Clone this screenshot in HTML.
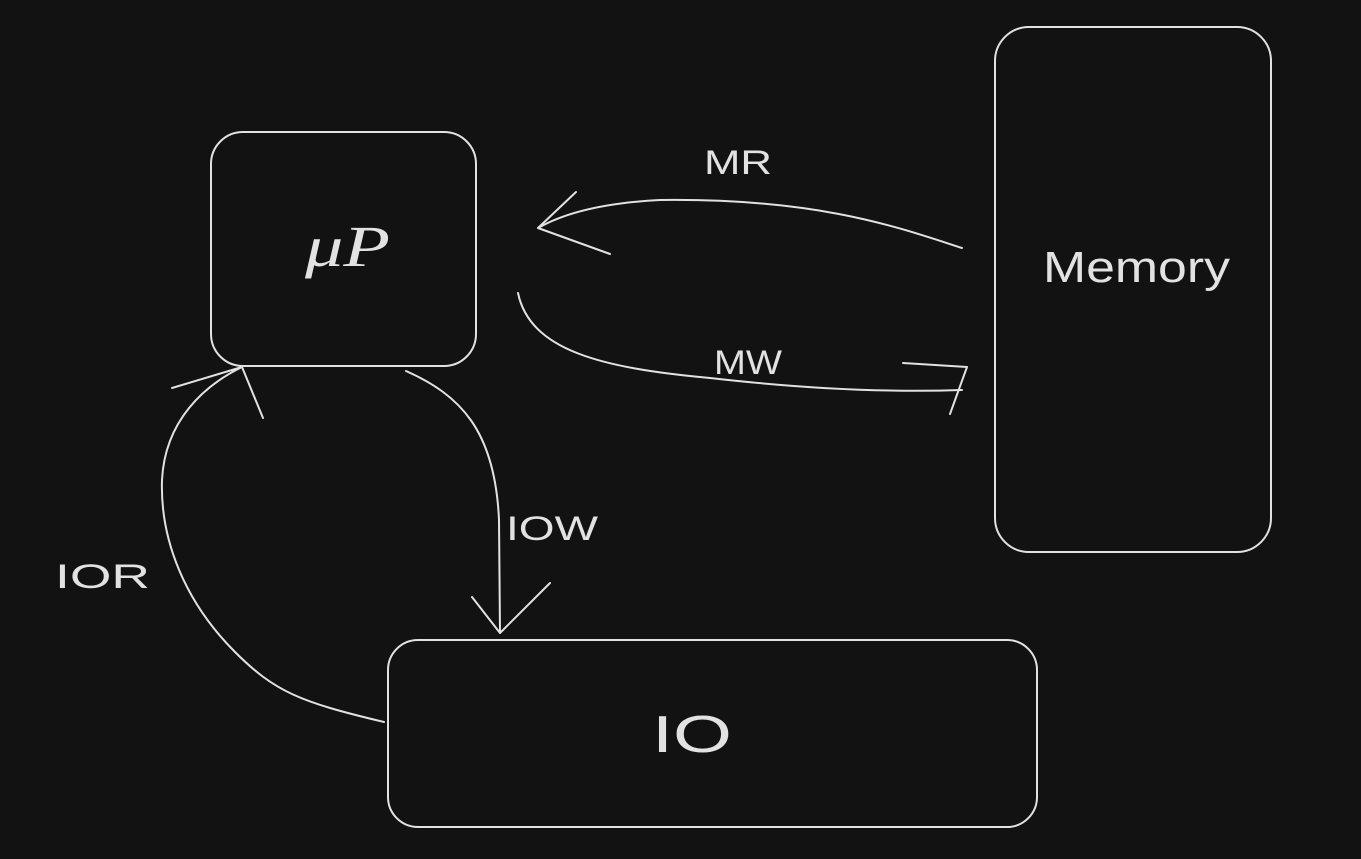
<!DOCTYPE html>
<html><head><meta charset="utf-8"><style>
html,body{margin:0;padding:0;background:#121212;width:1361px;height:859px;overflow:hidden}
</style></head><body>
<svg width="1361" height="859" viewBox="0 0 1361 859" xmlns="http://www.w3.org/2000/svg">
<rect width="1361" height="859" fill="#121212"/>
<g fill="none" stroke="#e2e2e2" stroke-width="2" stroke-linecap="round" stroke-linejoin="round">
<rect x="211" y="132" width="265" height="234" rx="32"/>
<rect x="995" y="27" width="276" height="525" rx="34"/>
<rect x="388" y="640" width="649" height="187" rx="30"/>
<path d="M962,248 C900,228 820,198 660,200 Q580,204 538,228"/>
<path d="M538,228 L576,192 M538,228 L610,254"/>
<path d="M518,293 C530,350 600,368 710,378 Q850,394 962,390"/>
<path d="M903,363 L967,367 M950,414 L967,367"/>
<path d="M406,371 C460,395 495,430 499,520 L500,633"/>
<path d="M472,597 L500,633 M550,583 L500,633"/>
<path d="M384,722 C300,702 275,692 235,652 C185,602 160,540 162,480 C165,420 205,385 242,367"/>
<path d="M172,388 L242,367 M263,418 L242,367"/>
</g>
<g fill="#e2e2e2" font-family="'Liberation Sans', sans-serif">
<text x="305" y="266" font-family="'Liberation Serif', serif" font-style="italic" font-size="58" textLength="85" lengthAdjust="spacingAndGlyphs">μP</text>
<text x="1043" y="282" font-size="44" textLength="187" lengthAdjust="spacingAndGlyphs">Memory</text>
<text x="652" y="752" font-size="52" textLength="80" lengthAdjust="spacingAndGlyphs">IO</text>
<text x="704" y="174" font-size="34" textLength="68" lengthAdjust="spacingAndGlyphs">MR</text>
<text x="714" y="374" font-size="34" textLength="68" lengthAdjust="spacingAndGlyphs">MW</text>
<text x="506" y="540" font-size="34" textLength="92" lengthAdjust="spacingAndGlyphs">IOW</text>
<text x="55" y="588" font-size="34" textLength="95" lengthAdjust="spacingAndGlyphs">IOR</text>
</g>
</svg>
</body></html>
